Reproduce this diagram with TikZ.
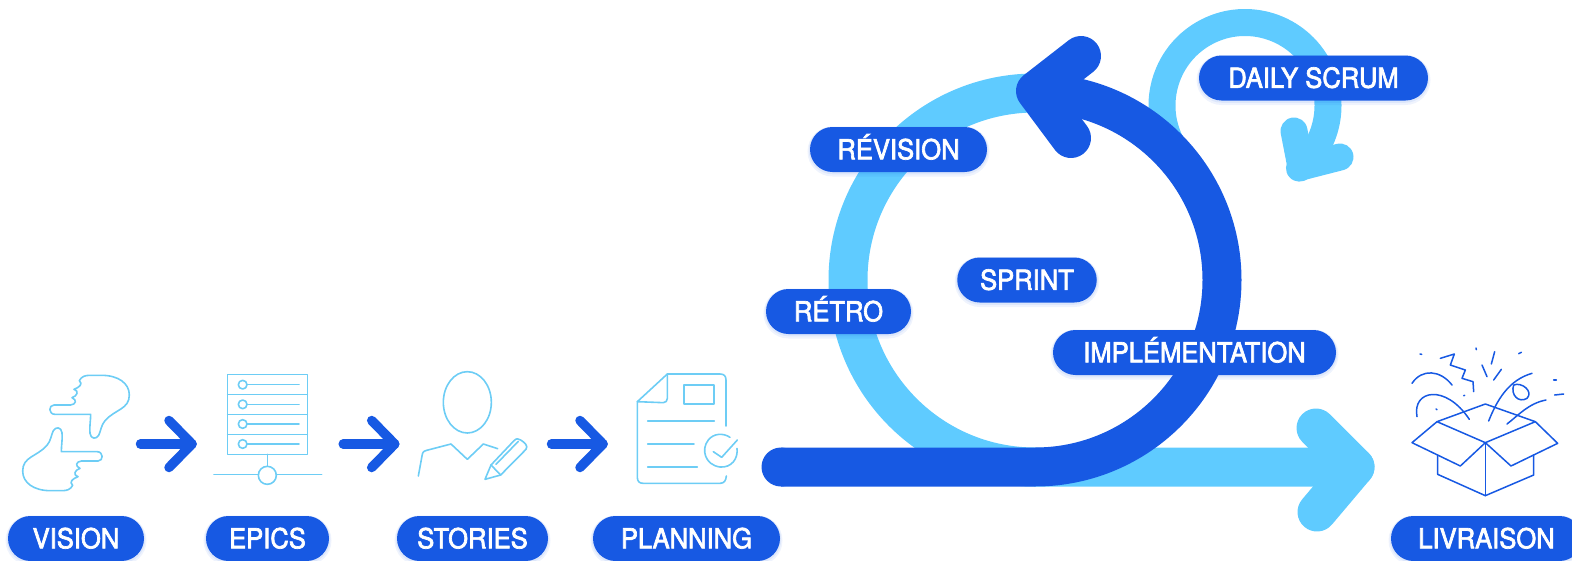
\documentclass[tikz,border=0pt]{standalone}
\usepackage{fontspec}
\setmainfont{TeX Gyre Heros}
\newfontfamily\pillfont[FakeBold=2.5,FakeStretch=0.93]{TeX Gyre Heros}
\usetikzlibrary{shapes.misc}
\definecolor{darkblue}{HTML}{1759E3}
\definecolor{lightblue}{HTML}{5FCBFF}
\definecolor{iconblue}{HTML}{6DCDF5}
\tikzset{
  pill/.style={rounded rectangle,fill=darkblue,text=white,inner sep=0pt,minimum height=45pt,
    text height=19.5pt,text depth=0pt,
    font=\pillfont\fontsize{27.5}{27.5}\selectfont,
    preaction={draw=darkblue,draw opacity=0.07,line width=5pt,transform canvas={yshift=-2pt}},
    preaction={draw=darkblue,draw opacity=0.08,line width=2.5pt,transform canvas={yshift=-1pt}}},
  mainband/.style={line width=39pt,line cap=round,line join=round},
  dailyband/.style={line width=27pt,line cap=round,line join=round,draw=lightblue},
  smallarrow/.style={draw=darkblue,line width=9.5pt,line cap=round,line join=round},
  icon/.style={draw=iconblue,line width=1.6pt,line cap=round,line join=round},
  boxicon/.style={draw=darkblue,line width=1.5pt,line cap=round,line join=round},
  zoomA/.style={x=0.33333pt,y=-0.33333pt},
}
\begin{document}
\begin{tikzpicture}[x=1pt,y=1pt]
\path[use as bounding box,clip] (0,0) rectangle (1572,-560);

% centres and end points
\coordinate (cyc) at (1035,-280);
\coordinate (cycBot) at (1035,-467);
\coordinate (cycTop) at (1035,-93);
\coordinate (lightTip) at (1355,-467);
\coordinate (lightBarbA) at (1316,-428);
\coordinate (lightBarbB) at (1317,-512);
\coordinate (darkStart) at (781,-467);
\coordinate (darkTip) at (1036,-91);
\coordinate (darkBarbA) at (1081,-56);
\coordinate (darkBarbB) at (1071,-138);
\coordinate (dailyC) at (1245,-105.5);
\coordinate (dailyTip) at (1301,-167);
\coordinate (dailyBarbA) at (1294,-131);
\coordinate (dailyBarbB) at (1340,-157);

% daily loop
\draw[dailyband] ([shift={(210:83pt)}]dailyC) arc[start angle=210,end angle=-49,radius=83pt];
\draw[dailyband] (dailyBarbA) -- (dailyTip) -- (dailyBarbB);

% light sprint band
\draw[mainband,draw=lightblue] (cycTop) arc[start angle=90,end angle=270,radius=187pt] -- (lightTip);
\draw[mainband,draw=lightblue] (lightBarbA) -- (lightTip) -- (lightBarbB);

% dark sprint band
\draw[mainband,draw=darkblue,line cap=butt] (darkStart) -- (cycBot) arc[start angle=-90,end angle=90,radius=187pt];
\fill[darkblue] (darkStart) circle (19.5pt);
\draw[draw=darkblue,line width=40pt,line cap=round,line join=round] (darkBarbA) -- (darkTip) -- (darkBarbB);

% small arrows
\foreach \dx/\nm in {0/a,202.7/b,411/c}{
  \coordinate (s\nm) at (140.5+\dx,-444);
  \coordinate (t\nm) at (192+\dx,-444);
  \coordinate (u\nm) at (169+\dx,-420.5);
  \coordinate (v\nm) at (169+\dx,-467.5);
  \draw[smallarrow] (s\nm) -- (t\nm);
  \draw[smallarrow] (u\nm) -- (t\nm) -- (v\nm);
}

% hands
\begin{scope}[shift={(0,-350)},zoomA]
  \def\handpath{(162,165) -- (212,165) .. controls (228,163) and (232,150) .. (216,143)
    .. controls (232,138) and (238,122) .. (222,118)
    .. controls (238,112) and (250,102) .. (238,92)
    .. controls (244,80) and (255,76) .. (268,76) -- (305,76)
    .. controls (355,76) and (388,100) .. (388,135)
    .. controls (388,178) and (345,178) .. (315,212)
    .. controls (303,226) and (302,245) .. (296,256)
    .. controls (290,268) and (272,268) .. (270,250)
    .. controls (268,230) and (272,212) .. (272,193) -- (165,193)
    .. controls (145,193) and (145,165) .. (162,165) -- cycle}
  \draw[icon] \handpath;
  \begin{scope}[rotate around={180:(228,249)}]
    \draw[icon] \handpath;
  \end{scope}
\end{scope}

% epics server
\begin{scope}[shift={(0,-350)},zoomA]
  \draw[icon] (683,73) rectangle (922,313);
  \foreach \yy in {133,193,253} \draw[icon] (683,\yy) -- (922,\yy);
  \foreach \yy in {104,163,222,282}{
    \draw[icon] (728,\yy) circle (13);
    \draw[icon] (741,\yy) -- (897,\yy);
  }
  \draw[icon] (802,313) -- (802,348);
  \draw[icon] (802,376) circle (27);
  \draw[icon] (642,373) -- (775,373);
  \draw[icon] (829,373) -- (965,373);
\end{scope}

% stories person and pencil
\begin{scope}[shift={(390,-350)},zoomA]
  \draw[icon] (232,157) ellipse [x radius=72,y radius=92];
  \draw[icon] (85,378) -- (96,318) .. controls (98,306) and (100,304) .. (110,301) -- (183,282) -- (232,328) -- (280,282) -- (323,296);
  \draw[icon] (285,388) -- (303,345) -- (372,272) .. controls (380,264) and (384,266) .. (392,270)
     .. controls (405,278) and (415,288) .. (408,298) -- (332,375) -- cycle;
  \draw[icon] (303,345) -- (332,375);
  \draw[icon] (318,343) -- (385,274);
\end{scope}

% planning page
\begin{scope}[shift={(390,-350)},zoomA]
  \draw[icon] (1008,228) -- (1008,90) .. controls (1008,78) and (1002,72) .. (990,72) -- (832,72) -- (742,155) -- (742,382)
    .. controls (742,394) and (748,400) .. (760,400) -- (990,400) .. controls (1002,400) and (1008,392) .. (1009,378);
  \draw[icon] (742,155) -- (820,158) .. controls (828,158) and (832,152) .. (832,145) -- (832,72);
  \draw[icon] (882,105) rectangle (972,162);
  \draw[icon] (773,213) -- (973,213);
  \draw[icon] (773,282) -- (912,282);
  \draw[icon] (773,351) -- (922,351);
  \draw[icon] (1020,262) .. controls (1000,248) and (970,250) .. (955,270)
     .. controls (932,298) and (945,345) .. (990,351) .. controls (1025,354) and (1045,325) .. (1041,295);
  \draw[icon] (970,305) -- (995,322) -- (1042,270);
\end{scope}

% gift box
\begin{scope}[shift={(1372,-340)},zoomA]
  \draw[boxicon] (195,245) -- (340,192) -- (490,245) -- (340,308) -- cycle;
  \draw[boxicon] (195,245) -- (120,308) -- (265,378) -- (340,308);
  \draw[boxicon] (490,245) -- (557,310) -- (417,378) -- (340,308);
  \draw[boxicon] (197,345) -- (197,403) -- (340,467) -- (485,405) -- (485,345);
  \draw[boxicon] (340,308) -- (340,467);
  \draw[boxicon] (120,130) .. controls (150,85) and (205,90) .. (240,135);
  \draw[boxicon] (135,230) .. controls (120,150) and (220,130) .. (292,238);
  \draw[boxicon] (350,243) .. controls (375,180) and (410,120) .. (480,100);
  \draw[boxicon] (425,135) .. controls (415,165) and (440,190) .. (465,175) .. controls (485,155) and (450,125) .. (425,135);
  \draw[boxicon] (405,252) .. controls (440,225) and (470,190) .. (522,180);
  \draw[boxicon] (205,55) -- (247,42) -- (235,75) -- (280,90) -- (270,115) -- (303,125) -- (305,155);
  \draw[boxicon] (330,75) -- (345,110);
  \draw[boxicon] (368,35) -- (358,72);
  \draw[boxicon] (388,88) -- (365,120);
  \draw[boxicon] (144,42) -- (149,43);
  \draw[boxicon] (312,24) -- (313,29);
  \draw[boxicon] (440,41) -- (448,37);
  \draw[boxicon] (275,167) -- (278,166);
  \draw[boxicon] (192,207) -- (195,209);
  \draw[boxicon] (545,120) -- (553,120);
  \draw[boxicon] (548,165) -- (575,162);
\end{scope}

% labels
\node[pill,minimum width=136pt] (vision) at (76,-538.5) {VISION};
\node[pill,minimum width=123pt] (epics) at (267.5,-538.5) {EPICS};
\node[pill,minimum width=151pt] (stories) at (472.5,-538.5) {STORIES};
\node[pill,minimum width=187pt] (planning) at (686.5,-538.5) {PLANNING};
\node[pill,minimum width=191pt] (livraison) at (1486.5,-538.5) {LIVRAISON};
\node[pill,minimum width=229pt] (daily) at (1313.5,-78) {DAILY SCRUM};
\node[pill,minimum width=177pt] (revision) at (898.5,-149.5) {RÉVISION};
\node[pill,minimum width=139.5pt] (sprint) at (1027,-280) {SPRINT};
\node[pill,minimum width=145pt] (retro) at (838.5,-311.5) {RÉTRO};
\node[pill,minimum width=283pt] (impl) at (1194.5,-352.5) {IMPLÉMENTATION};
\end{tikzpicture}
\end{document}
